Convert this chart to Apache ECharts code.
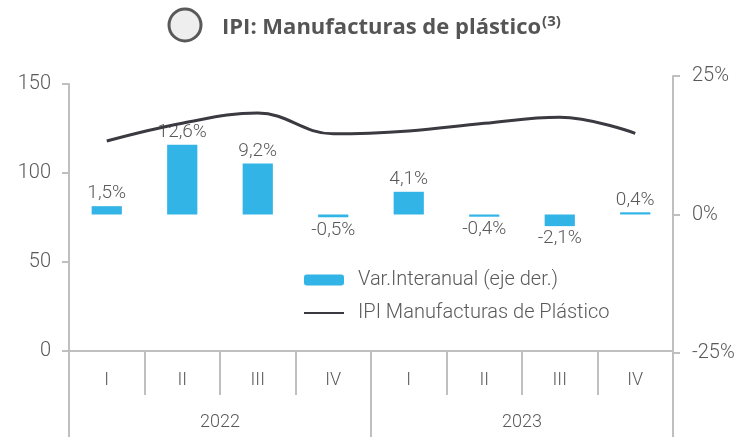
<!DOCTYPE html>
<html><head><meta charset="utf-8">
<script src="https://cdn.jsdelivr.net/npm/echarts@6/dist/echarts.min.js"></script>
<style>html,body{margin:0;padding:0;background:#fff}#c{width:747px;height:437px}</style>
</head><body><div id="c"></div>
<script>
const quarters = ['I','II','III','IV','I','II','III','IV'];
const years = ['2022','2023'];
const varInteranual = [1.5, 12.6, 9.2, -0.5, 4.1, -0.4, -2.1, 0.4];
const ipiPlastico = [118, 128, 133.7, 122, 123.6, 127.9, 131.3, 122.3];
const leftTicks = {min: 0, max: 150, interval: 50};
const rightTicks = {min: -25, max: 25, interval: 25};

const gray = '#595959';
const axisGray = '#bfbfbf';
const FONT = 'Roboto';

const chart = echarts.init(document.getElementById('c'), null, {renderer: 'canvas'});
chart.setOption({
  animation: false,
  backgroundColor: '#fff',
  title: {
    text: '{a|IPI: Manufacturas de plástico}{b|(3)}',
    left: 217, top: 9,
    textStyle: {
      rich: {
        a: {fontFamily: 'Open Sans', fontWeight: 'bold', fontSize: 22, color: '#555555'},
        b: {fontFamily: 'Open Sans', fontWeight: 'bold', fontSize: 15, color: '#555555', verticalAlign: 'top', padding: [0,0,12,1]}
      }
    }
  },
  graphic: [{
    type: 'circle', shape: {cx: 185, cy: 25, r: 16},
    style: {fill: '#eeeeee', stroke: '#595959', lineWidth: 3}
  }],
  legend: {
    orient: 'vertical', left: 303, top: 270, padding: 0, itemWidth: 40, itemHeight: 11, itemGap: 13,
    textStyle: {fontFamily: FONT, fontWeight: 300, fontSize: 20, color: gray, padding: [0,0,0,9]},
    data: [
      {name: 'Var.Interanual (eje der.)'},
      {name: 'IPI Manufacturas de Plástico', itemStyle: {opacity: 0, color: 'rgba(0,0,0,0)', borderWidth: 0}}
    ]
  },
  grid: [
    {left: 69, right: 74, top: 84, height: 267, containLabel: false},
    {left: 69, right: 74, top: 76, height: 277, containLabel: false}
  ],
  xAxis: [
    {type: 'category', gridIndex: 0, data: quarters, position: 'bottom',
     axisLine: {show: true, lineStyle: {color: axisGray, width: 2}},
     axisTick: {show: true, interval: 0, length: 44, lineStyle: {color: axisGray, width: 2}},
     axisLabel: {margin: 20, fontFamily: FONT, fontWeight: 300, fontSize: 18, color: gray, interval: 0}},
    {type: 'category', gridIndex: 0, data: years, position: 'bottom', offset: 0,
     axisLine: {show: false},
     axisTick: {show: true, interval: 0, length: 86, lineStyle: {color: axisGray, width: 2}},
     axisLabel: {margin: 62, fontFamily: FONT, fontWeight: 300, fontSize: 18, color: gray, interval: 0}},
    {type: 'category', gridIndex: 1, data: quarters, show: false}
  ],
  yAxis: [
    {type: 'value', gridIndex: 0, position: 'left', min: leftTicks.min, max: leftTicks.max, interval: leftTicks.interval,
     splitLine: {show: false},
     axisLine: {show: true, lineStyle: {color: axisGray, width: 2}},
     axisTick: {show: true, length: 7, lineStyle: {color: axisGray, width: 2}},
     axisLabel: {margin: 18, fontFamily: FONT, fontWeight: 300, fontSize: 20, color: gray}},
    {type: 'value', gridIndex: 1, position: 'right', min: rightTicks.min, max: rightTicks.max, interval: rightTicks.interval,
     splitLine: {show: false},
     axisLine: {show: true, lineStyle: {color: axisGray, width: 2}},
     axisTick: {show: true, length: 7, lineStyle: {color: axisGray, width: 2}},
     axisLabel: {margin: 19, fontFamily: FONT, fontWeight: 300, fontSize: 20, color: gray, formatter: '{value}%'}}
  ],
  series: [
    {name: 'Var.Interanual (eje der.)', type: 'bar', xAxisIndex: 2, yAxisIndex: 1,
     barWidth: '40%', itemStyle: {color: '#33b4e6'},
     data: varInteranual.map(v => ({value: v, label: {position: v >= 0 ? 'top' : 'bottom'}})),
     label: {show: true, distance: 3, fontFamily: FONT, fontWeight: 300, fontSize: 19, color: gray,
             formatter: p => p.value.toFixed(1).replace('.', ',') + '%'},
     z: 2},
    {name: 'IPI Manufacturas de Plástico', type: 'line', xAxisIndex: 0, yAxisIndex: 0,
     data: ipiPlastico, smooth: 0.4, symbol: 'none',
     lineStyle: {color: '#3a3a40', width: 3}, itemStyle: {color: '#3a3a40'}, z: 3}
  ]
});
</script></body></html>
